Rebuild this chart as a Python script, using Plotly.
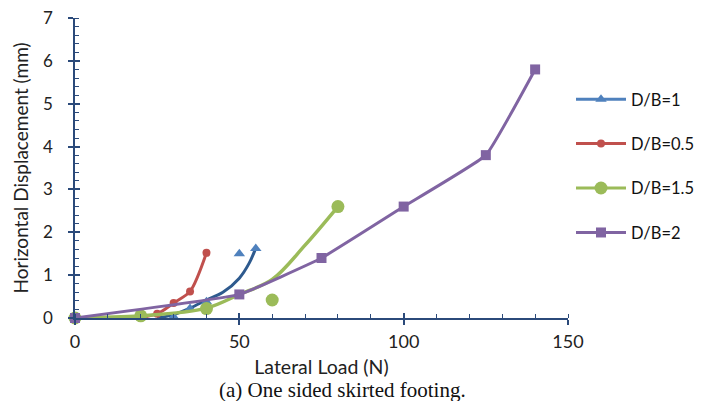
import plotly.graph_objects as go

# ---- data ----
series_names = ["D/B=1", "D/B=0.5", "D/B=1.5", "D/B=2"]
colors = ["#4F81BD", "#C0504D", "#9BBB59", "#8064A2"]

# D/B=1 (markers + fitted curve)
load_db1 = [0, 5, 25, 30, 35, 40, 50, 55]
disp_db1 = [0, -0.04, -0.03, 0.03, 0.22, 0.38, 1.5, 1.62]
curve_load_db1 = [25, 30, 35, 40, 45, 50, 53, 55]
curve_disp_db1 = [0.0, 0.08, 0.23, 0.42, 0.6, 0.93, 1.28, 1.63]

# D/B=0.5
load_db05 = [0, 10, 15, 25, 30, 35, 40]
disp_db05 = [0, -0.03, -0.03, 0.1, 0.35, 0.62, 1.52]

# D/B=1.5 (markers + fitted curve)
load_db15 = [0, 20, 40, 60, 80]
disp_db15 = [0, 0.05, 0.22, 0.42, 2.6]
curve_load_db15 = [0, 20, 40, 50, 60, 70, 80]
curve_disp_db15 = [0, 0.05, 0.23, 0.55, 0.9, 1.7, 2.6]

# D/B=2
load_db2 = [0, 50, 75, 100, 125, 140]
disp_db2 = [0, 0.55, 1.4, 2.6, 3.8, 5.8]

x_ticks = [0, 50, 100, 150]
y_ticks = [0, 1, 2, 3, 4, 5, 6, 7]

axis_color = "#2B4A7A"
font_family = "Lato, 'Open Sans', sans-serif"

# layout geometry (figure is 8px smaller than window because of page body margin)
W, H = 696, 393
ML, MR, MT, MB = 67, 136, 10, 83
plot_w = W - ML - MR

fig = go.Figure()

fig.add_trace(go.Scatter(x=curve_load_db1, y=curve_disp_db1, mode="lines",
                         line=dict(color="#2E5A8E", width=3, shape="spline"),
                         showlegend=False, hoverinfo="skip"))
fig.add_trace(go.Scatter(x=load_db1, y=disp_db1, mode="markers",
                         marker=dict(symbol="triangle-up", size=10, color=colors[0]),
                         showlegend=False, cliponaxis=False))
fig.add_trace(go.Scatter(x=load_db05, y=disp_db05, mode="lines+markers",
                         line=dict(color=colors[1], width=3, shape="spline", smoothing=0.8),
                         marker=dict(symbol="circle", size=8, color=colors[1]),
                         showlegend=False, cliponaxis=False))
fig.add_trace(go.Scatter(x=curve_load_db15, y=curve_disp_db15, mode="lines",
                         line=dict(color=colors[2], width=3.5, shape="spline"),
                         showlegend=False, hoverinfo="skip"))
fig.add_trace(go.Scatter(x=load_db15, y=disp_db15, mode="markers",
                         marker=dict(symbol="circle", size=13, color=colors[2]),
                         showlegend=False, cliponaxis=False))
fig.add_trace(go.Scatter(x=load_db2, y=disp_db2, mode="lines+markers",
                         line=dict(color=colors[3], width=3, shape="spline", smoothing=0.3),
                         marker=dict(symbol="square", size=10, color=colors[3]),
                         showlegend=False, cliponaxis=False))

# legend entries
leg_symbols = ["triangle-up", "circle", "circle", "square"]
leg_sizes = [10, 8, 13, 10]
for i, name in enumerate(series_names):
    fig.add_trace(go.Scatter(x=[None], y=[None], mode="lines+markers", name=name,
                             legendgroup=name,
                             line=dict(color=colors[i], width=3),
                             marker=dict(symbol=leg_symbols[i], size=leg_sizes[i], color=colors[i])))

fig.update_layout(
    width=W, height=H,
    margin=dict(l=ML, r=MR, t=MT, b=MB, autoexpand=False),
    paper_bgcolor="white", plot_bgcolor="white",
    font=dict(family=font_family, size=17, color="#222222"),
    legend=dict(x=(563 - ML) / plot_w, xanchor="left", y=0.507, yanchor="middle",
                tracegroupgap=20, font=dict(size=16.5, color="#111111"),
                bgcolor="rgba(0,0,0,0)", itemwidth=50),
    xaxis=dict(range=[0, 150], tickvals=x_ticks,
               showgrid=False, zeroline=False, automargin=False,
               showline=True, linecolor=axis_color, linewidth=1.5,
               ticks="outside", ticklen=5, tickwidth=1.5, tickcolor=axis_color,
               minor=dict(ticks="inside", dtick=10, ticklen=4, tickcolor=axis_color, tickwidth=1),
               ticklabelstandoff=2, ticklabeloverflow="allow",
               title=dict(text="Lateral Load (N)", standoff=9, font=dict(size=19.5)),
               tickfont=dict(size=18)),
    xaxis2=dict(range=[0, 150], overlaying="x", side="bottom",
                tickvals=x_ticks, showticklabels=False, showgrid=False, zeroline=False,
                automargin=False,
                ticks="inside", ticklen=5, tickwidth=1.5, tickcolor=axis_color),
    yaxis=dict(range=[0, 7], tickvals=y_ticks, showgrid=False, zeroline=False,
               automargin=False,
               showline=True, linecolor=axis_color, linewidth=1.5,
               ticks="outside", ticklen=5, tickwidth=1.5, tickcolor=axis_color,
               minor=dict(ticks="inside", dtick=0.2, ticklen=4, tickcolor=axis_color, tickwidth=1),
               ticklabelstandoff=12, ticklabeloverflow="allow",
               title=dict(text="Horizontal Displacement (mm)", standoff=9, font=dict(size=19)),
               tickfont=dict(size=17)),
    yaxis2=dict(range=[0, 7], overlaying="y", side="left", tickvals=y_ticks,
                showticklabels=False, showgrid=False, zeroline=False, automargin=False,
                ticks="inside", ticklen=5, tickwidth=1.5, tickcolor=axis_color),
)

fig.add_trace(go.Scatter(x=[None], y=[None], xaxis="x2", yaxis="y2", showlegend=False))

fig.add_annotation(text="(a) One sided skirted footing.", xref="paper", yref="paper",
                   x=(334 - ML) / plot_w, y=-0.24,
                   xanchor="center", yanchor="middle", showarrow=False,
                   font=dict(family="'Liberation Serif', 'Times New Roman', serif", size=21, color="#111111"))

fig.write_html("out.html")
